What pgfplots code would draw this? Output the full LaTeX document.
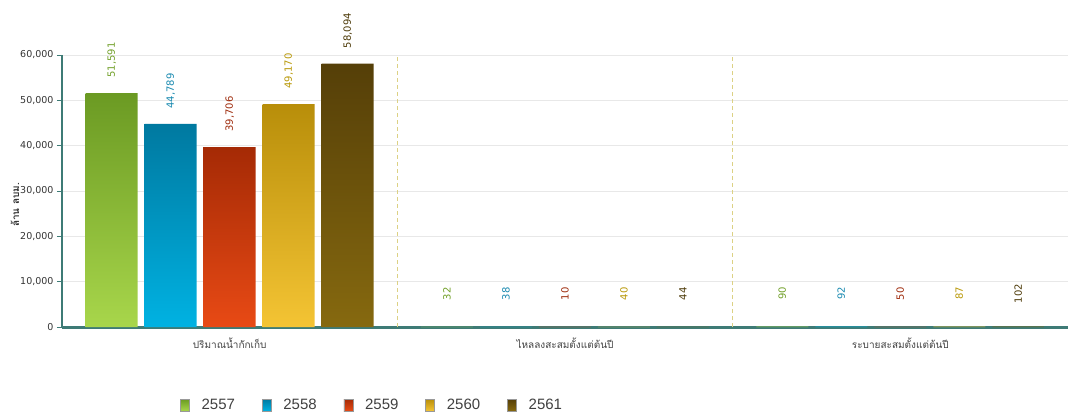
\documentclass[border=0pt]{standalone}
\usepackage{fontspec}
\usepackage{pgfplots}
\pgfplotsset{compat=1.18}
\setmainfont{DejaVu Sans}
\newfontfamily\thaifont[Script=Thai]{Loma}
\newfontfamily\legfont{Liberation Sans}
\definecolor{gtop}{HTML}{6B9A23}\definecolor{gbot}{HTML}{A8D64B}\definecolor{glab}{HTML}{72A02A}
\definecolor{btop}{HTML}{0079A0}\definecolor{bbot}{HTML}{00B2E2}\definecolor{blab}{HTML}{1A8AB0}
\definecolor{rtop}{HTML}{A52A05}\definecolor{rbot}{HTML}{E84A15}\definecolor{rlab}{HTML}{9E2B0C}
\definecolor{ytop}{HTML}{B88E0A}\definecolor{ybot}{HTML}{F4C434}\definecolor{ylab}{HTML}{B89808}
\definecolor{ntop}{HTML}{553F08}\definecolor{nbot}{HTML}{86690F}\definecolor{nlab}{HTML}{4D3A08}
\definecolor{axteal}{HTML}{3E7B76}
\definecolor{sepyel}{HTML}{DCD184}
\begin{document}
\begin{tikzpicture}
\useasboundingbox (0pt,0pt) rectangle (1068pt,415pt);
\begin{axis}[
  at={(62pt,88pt)}, anchor=south west,
  scale only axis, width=1006pt, height=272pt,
  xmin=-0.5, xmax=2.5, ymin=0, ymax=60000,
  clip=false,
  ybar=7pt, bar width=52pt,
  axis x line*=bottom, axis y line*=left,
  x axis line style={line width=3pt, color=axteal},
  y axis line style={line width=1.5pt, color=axteal},
  xtick={0,1,2},
  xticklabels={ปริมาณน้ำกักเก็บ, ไหลลงสะสมตั้งแต่ต้นปี, ระบายสะสมตั้งแต่ต้นปี},
  xticklabel style={font=\thaifont\fontsize{10}{12}\selectfont, text=black!75, yshift=-2pt},
  x tick style={draw=none},
  extra x ticks={-0.5,0.5,1.5},
  extra x tick labels={},
  extra x tick style={tick style={draw=black!70, line width=0.8pt}, major tick length=6pt, tick align=outside},
  ytick={0,10000,...,60000},
  ymajorgrids, major grid style={color=black!9, line width=0.6pt},
  y tick style={color=axteal, line width=1pt}, tick align=outside, major tick length=5pt,
  yticklabel style={font=\fontsize{9.5}{11}\selectfont, text=black!80},
  /pgf/number format/.cd, fixed, 1000 sep={,}, assume math mode=true, /pgfplots/.cd,
  scaled y ticks=false,
  nodes near coords={\pgfmathprintnumber[fixed,1000 sep={,},assume math mode=true]{\pgfplotspointmeta}},
  every node near coord/.append style={shift={(0pt,33pt)}, rotate=90, anchor=center, inner sep=0pt,
     font=\fontsize{10}{12}\selectfont},
  legend columns=5,
  legend style={at={(rel axis cs:0.1143,-0.2868)}, anchor=west, draw=none, fill=none,
     font=\legfont\fontsize{15}{17}\selectfont, text=black!75,
     /tikz/every odd column/.append style={column sep=10pt},
     /tikz/every even column/.append style={column sep=25pt}},
  legend image code/.code={\path[#1, draw=black!40, line width=0.4pt] (0pt,-6pt) rectangle (9pt,6pt);},
]
\draw[dashed, color=sepyel, line width=0.8pt, dash pattern=on 4pt off 3pt] (axis cs:0.5,0) -- (axis cs:0.5,60000);
\draw[dashed, color=sepyel, line width=0.8pt, dash pattern=on 4pt off 3pt] (axis cs:1.5,0) -- (axis cs:1.5,60000);
\addplot[draw=none, top color=gtop, bottom color=gbot, every node near coord/.append style={text=glab}]
  coordinates {(0,51591) (1,32) (2,90)};
\addplot[draw=none, top color=btop, bottom color=bbot, every node near coord/.append style={text=blab}]
  coordinates {(0,44789) (1,38) (2,92)};
\addplot[draw=none, top color=rtop, bottom color=rbot, every node near coord/.append style={text=rlab}]
  coordinates {(0,39706) (1,10) (2,50)};
\addplot[draw=none, top color=ytop, bottom color=ybot, every node near coord/.append style={text=ylab}]
  coordinates {(0,49170) (1,40) (2,87)};
\addplot[draw=none, top color=ntop, bottom color=nbot, every node near coord/.append style={text=nlab}]
  coordinates {(0,58094) (1,44) (2,102)};
\legend{2557,2558,2559,2560,2561}
\end{axis}
\node[rotate=90, font=\thaifont\bfseries\fontsize{10}{12}\selectfont, text=black!80] at (15pt,210pt) {ล้าน ลบม.};
\end{tikzpicture}
\end{document}
